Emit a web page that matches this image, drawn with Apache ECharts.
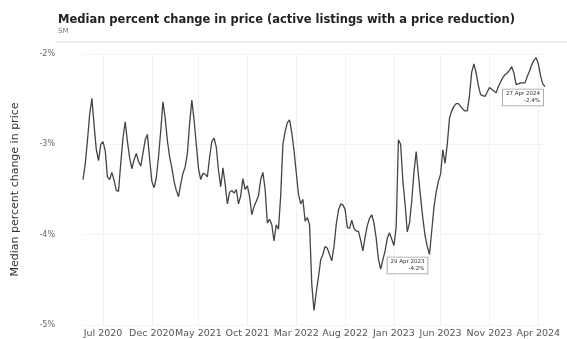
<!DOCTYPE html>
<html>
<head>
<meta charset="utf-8">
<script src="https://cdn.jsdelivr.net/npm/echarts@6/dist/echarts.min.js"></script>
<style>
  html, body { margin: 0; background: #fff; }
  #chart { width: 567px; height: 339px; }
</style>
</head>
<body>
<div id="chart"></div>
<script>
// weekly median % change in price, active listings with a price reduction
const firstWeek = '2020-05-02';
const labelMonths = ['2020-07', '2020-12', '2021-05', '2021-10', '2022-03',
  '2022-08', '2023-01', '2023-06', '2023-11', '2024-04'];
const values = [
  -3.39, -3.22, -2.96, -2.67, -2.49, -2.79, -3.06, -3.18, -3.00, -2.97,
  -3.07, -3.36, -3.39, -3.31, -3.40, -3.51, -3.52, -3.21, -2.93, -2.75,
  -2.97, -3.15, -3.27, -3.17, -3.10, -3.19, -3.24, -3.10, -2.95, -2.89,
  -3.16, -3.41, -3.48, -3.37, -3.14, -2.85, -2.53, -2.71, -2.96, -3.14,
  -3.26, -3.41, -3.51, -3.58, -3.44, -3.32, -3.25, -3.10, -2.77, -2.51,
  -2.73, -3.00, -3.27, -3.39, -3.32, -3.33, -3.36, -3.14, -2.97, -2.93,
  -3.03, -3.29, -3.47, -3.26, -3.44, -3.66, -3.53, -3.51, -3.54, -3.50,
  -3.66, -3.57, -3.38, -3.50, -3.46, -3.58, -3.78, -3.69, -3.63, -3.57,
  -3.39, -3.31, -3.50, -3.87, -3.83, -3.89, -4.07, -3.89, -3.94, -3.57,
  -3.00, -2.86, -2.76, -2.73, -2.87, -3.07, -3.31, -3.55, -3.66, -3.61,
  -3.85, -3.81, -3.89, -4.55, -4.84, -4.64, -4.47, -4.28, -4.22, -4.13,
  -4.15, -4.22, -4.29, -4.13, -3.89, -3.73, -3.66, -3.67, -3.72, -3.92,
  -3.93, -3.84, -3.93, -3.96, -3.96, -4.06, -4.18, -4.03, -3.90, -3.82,
  -3.78, -3.87, -4.04, -4.27, -4.38, -4.28, -4.18, -4.04, -3.98, -4.05,
  -4.12, -3.92, -2.95, -3.00, -3.40, -3.66, -3.97, -3.87, -3.63, -3.31,
  -3.08, -3.34, -3.59, -3.82, -4.01, -4.13, -4.22, -3.96, -3.70, -3.53,
  -3.41, -3.33, -3.06, -3.21, -3.00, -2.71, -2.63, -2.58, -2.55, -2.55,
  -2.58, -2.61, -2.63, -2.63, -2.46, -2.20, -2.11, -2.21, -2.35, -2.45,
  -2.46, -2.47, -2.42, -2.37, -2.39, -2.41, -2.43, -2.36, -2.31, -2.26,
  -2.23, -2.21, -2.18, -2.14, -2.21, -2.34, -2.33, -2.32, -2.32, -2.32,
  -2.25, -2.19, -2.12, -2.07, -2.04, -2.11, -2.24, -2.33, -2.36
];
const notes = [
  { week: 156, date: '29 Apr 2023' },
  { week: 208, date: '27 Apr 2024' },
];
const monthNames = ['Jan', 'Feb', 'Mar', 'Apr', 'May', 'Jun', 'Jul', 'Aug', 'Sep', 'Oct', 'Nov', 'Dec'];

const t0 = Date.parse(firstWeek + 'T00:00:00Z');
const weeks = values.map((_, i) => new Date(t0 + i * 7 * 864e5).toISOString().slice(0, 10));

// first week of each labelled month
const isTick = i => +weeks[i].slice(8) <= 7 && labelMonths.includes(weeks[i].slice(0, 7));
const monthLabel = d => monthNames[+d.slice(5, 7) - 1] + ' ' + d.slice(0, 4);

const chart = echarts.init(document.getElementById('chart'));
chart.setOption({
  animation: false,
  backgroundColor: '#fff',
  textStyle: { fontFamily: 'DejaVu Sans' },
  title: {
    text: 'Median percent change in price (active listings with a price reduction)',
    subtext: 'SM',
    left: 53, top: 9, itemGap: 2,
    textStyle: { fontSize: 11.5, fontWeight: 'bold', color: '#222' },
    subtextStyle: { fontSize: 7, color: '#777' },
  },
  graphic: [{
    type: 'line', silent: true,
    shape: { x1: 55, y1: 42, x2: 567, y2: 42 },
    style: { stroke: '#dddddd', lineWidth: 1 },
  }],
  grid: { left: 83, right: 22, top: 54, bottom: 13 },
  xAxis: {
    type: 'category', data: weeks, boundaryGap: false,
    axisLine: { show: false }, axisTick: { show: false },
    axisLabel: { interval: isTick, formatter: monthLabel, fontSize: 9.5, color: '#555', margin: 4 },
    splitLine: { show: true, interval: isTick, lineStyle: { color: '#f2f2f2' } },
  },
  yAxis: {
    type: 'value', min: -5, max: -2, interval: 1,
    name: 'Median percent change in price', nameLocation: 'middle', nameGap: 62,
    nameTextStyle: { fontSize: 11, color: '#333' },
    axisLabel: { formatter: v => v + '%', fontSize: 8, color: '#666', margin: 28 },
    splitLine: { lineStyle: { color: '#f4f4f4' } },
  },
  series: [{
    type: 'line', data: values, symbol: 'none',
    lineStyle: { color: '#444', width: 1.3 },
    markPoint: {
      symbol: 'circle', symbolSize: 0,
      label: {
        show: true, position: [-2, 3], align: 'right', verticalAlign: 'top',
        fontSize: 5.5, lineHeight: 7, color: '#333',
        backgroundColor: '#fff', borderColor: '#999', borderWidth: 0.8, padding: [1, 3],
        formatter: p => p.name + '\n' + p.value.toFixed(1) + '%',
      },
      data: notes.map(n => ({ name: n.date, coord: [n.week, values[n.week]], value: values[n.week] })),
    },
  }],
});
</script>
</body>
</html>
